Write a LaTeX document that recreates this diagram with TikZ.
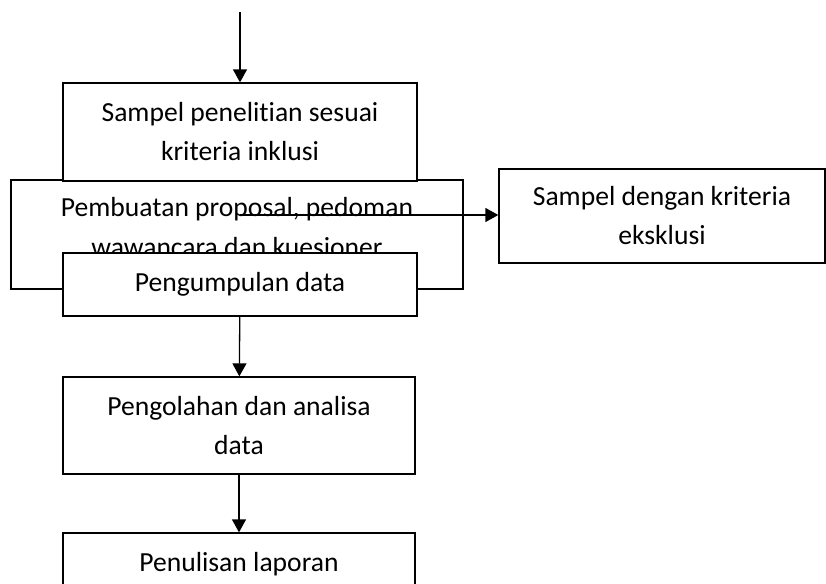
\documentclass[tikz,border=0pt]{standalone}
\usepackage{fontspec}
\setmainfont{Carlito}[Ligatures=NoCommon]
\usetikzlibrary{positioning,arrows.meta}
\tikzset{
    box/.style={rectangle, draw, fill=white, line width=0.65pt, align=center, font=\fontsize{13.8}{19.5}\selectfont, inner sep=2pt},
    flow/.style={draw, -{Triangle[width=7pt,length=6.5pt]}, line width=0.65pt},
}

\begin{document}
\begin{tikzpicture}[x=0.5pt, y=-0.5pt,
  box text/.style={align=center, font=\fontsize{13.8}{20}\selectfont, inner sep=2pt}
]
\useasboundingbox (0,0) rectangle (826,584);
\clip (0,0) rectangle (826,584);

% Nodes
\node[box, fill=none, minimum width=226pt, minimum height=54.5pt,
  label={[box text, yshift=3.75pt]center:Pembuatan proposal, pedoman\\wawancara dan kuesioner}] (proposal) at (237,234.5) {};
\node[box, minimum width=177pt, minimum height=49pt] (sampel) at (240,132) {Sampel penelitian sesuai\\kriteria inklusi};
\node[box, minimum width=177pt, minimum height=31.5pt] (kumpul) at (240,284.5) {Pengumpulan data};
\node[box, minimum width=163pt, minimum height=47pt] (eksklusi) at (662,216) {Sampel dengan kriteria\\eksklusi};
\node[box, minimum width=176pt, minimum height=48.5pt] (olah) at (239,425.5) {Pengolahan dan analisa\\data};
\node[box, minimum width=176pt, minimum height=31.5pt] (tulis) at (239,564.5) {Penulisan laporan};
\coordinate (awal) at (240,12);
\coordinate (cabang) at (240,215);

% Edges
\draw[flow] (awal) -- (sampel);
\draw[flow] (cabang) -- (cabang -| eksklusi.west);
\draw[flow] (kumpul) -- (olah);
\draw[flow] (olah) -- (tulis);

\end{tikzpicture}
\end{document}
